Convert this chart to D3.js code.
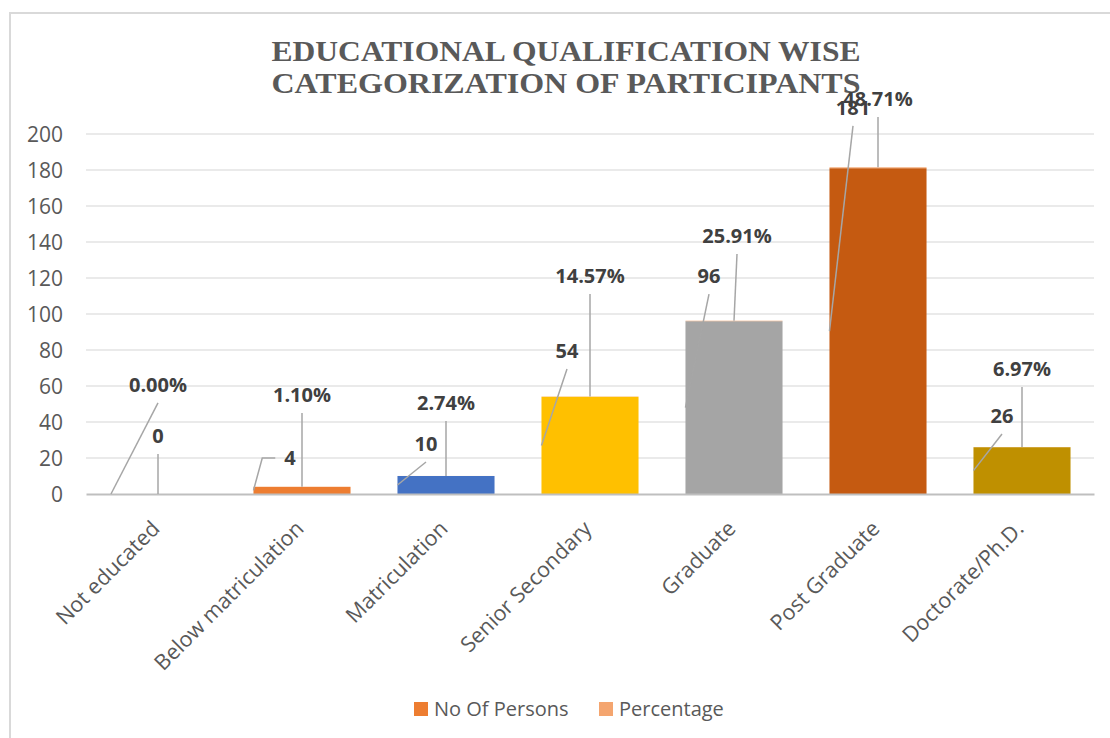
<!DOCTYPE html>
<html>
<head>
<meta charset="utf-8">
<script src="https://cdn.jsdelivr.net/npm/d3@7/dist/d3.min.js"></script>
<style>
  html, body { margin: 0; padding: 0; background: #fff; }
  svg { display: block; }
</style>
</head>
<body>
<svg id="chart" width="1110" height="738"></svg>
<script>
// ---- data ----
const categories = ["Not educated", "Below matriculation", "Matriculation", "Senior Secondary", "Graduate", "Post Graduate", "Doctorate/Ph.D."];
const persons = [0, 4, 10, 54, 96, 181, 26];
const percentages = [0.0000, 0.0110, 0.0274, 0.1457, 0.2591, 0.4871, 0.0697];
const barColors = ["#ed7d31", "#ed7d31", "#4472c4", "#ffc000", "#a5a5a5", "#c55a11", "#bf9000"];
const yTicks = [0, 20, 40, 60, 80, 100, 120, 140, 160, 180, 200];
const titleLines = ["EDUCATIONAL QUALIFICATION WISE", "CATEGORIZATION OF PARTICIPANTS"];
const legendItems = [{ name: "No Of Persons", color: "#ed7d31" }, { name: "Percentage", color: "#f4a56f" }];

// ---- label placement (label centre offset from bar centre in px, baseline height in axis units) ----
const personLabelLayout = [
  { dx: 0, at: 28.3 }, { dx: -12, at: 16.1 }, { dx: -20, at: 23.9 }, { dx: -23, at: 75.6 },
  { dx: -25, at: 117.2 }, { dx: -25, at: 210.6 }, { dx: -20, at: 39.4 }
];
const percentLabelLayout = [
  { dx: 0, at: 56.7 }, { dx: 0, at: 51.1 }, { dx: 0, at: 46.7 }, { dx: 0, at: 117.2 },
  { dx: 3, at: 139.4 }, { dx: 0, at: 215.6 }, { dx: 0, at: 65.6 }
];

// ---- layout ----
const svg = d3.select("#chart");
const plot = { left: 86, right: 1094, top: 134, bottom: 494 };

const x = d3.scaleBand().domain(categories).range([plot.left, plot.right])
  .paddingInner(0.326).paddingOuter(0.163);
const y = d3.scaleLinear().domain([0, 200]).range([plot.bottom, plot.top]);

// chart frame
svg.append("rect").attr("x", 10).attr("y", 13).attr("width", 1200).attr("height", 800)
  .attr("fill", "none").attr("stroke", "#d9d9d9").attr("stroke-width", 2);

// title
const title = svg.append("text").attr("text-anchor", "middle")
  .attr("font-family", "'Liberation Serif', 'Times New Roman', serif")
  .attr("font-weight", "bold").attr("font-size", 30).attr("fill", "#595959");
titleLines.forEach((t, i) => {
  title.append("tspan").attr("x", 566).attr("y", 61 + i * 32)
    .attr("textLength", 589).attr("lengthAdjust", "spacingAndGlyphs").text(t);
});

// gridlines
svg.append("g").selectAll("line").data(yTicks.filter(d => d > 0)).join("line")
  .attr("x1", plot.left).attr("x2", plot.right)
  .attr("y1", d => y(d)).attr("y2", d => y(d))
  .attr("stroke", "#e3e3e3").attr("stroke-width", 1.3);

// y axis labels
const yAxis = svg.append("g").attr("transform", `translate(${plot.left - 23},0)`)
  .call(d3.axisLeft(y).tickValues(yTicks).tickSize(0).tickPadding(0));
yAxis.select(".domain").remove();
yAxis.selectAll("text").attr("font-family", "'Open Sans', sans-serif").attr("font-size", 21)
  .attr("fill", "#595959").attr("dy", "0.36em");

// bars: persons
svg.append("g").selectAll("rect").data(categories).join("rect")
  .attr("x", d => x(d)).attr("width", x.bandwidth())
  .attr("y", (d, i) => y(persons[i])).attr("height", (d, i) => y(0) - y(persons[i]))
  .attr("fill", (d, i) => barColors[i]);

// bars: percentage stacked on top
svg.append("g").selectAll("rect").data(categories).join("rect")
  .attr("x", d => x(d)).attr("width", x.bandwidth())
  .attr("y", (d, i) => y(persons[i] + percentages[i]))
  .attr("height", (d, i) => y(persons[i]) - y(persons[i] + percentages[i]))
  .attr("fill", legendItems[1].color);

// x axis line and labels
const xAxis = svg.append("g").attr("transform", `translate(0,${plot.bottom})`)
  .call(d3.axisBottom(x).tickSize(0).tickPadding(0));
xAxis.select(".domain").attr("stroke", "#bfbfbf").attr("stroke-width", 2);
xAxis.selectAll(".tick text")
  .attr("font-family", "'Open Sans', sans-serif").attr("font-size", 21.5).attr("fill", "#595959")
  .attr("text-anchor", "end").attr("y", 0).attr("dy", 0)
  .attr("transform", "translate(3,36) rotate(-45)");

// data labels with leader lines
const labelFont = { family: "'Open Sans', sans-serif", size: 20 };
const leaders = svg.append("g").attr("fill", "none").attr("stroke", "#a6a6a6").attr("stroke-width", 1.5);
const labels = svg.append("g").attr("font-family", labelFont.family).attr("font-size", labelFont.size)
  .attr("font-weight", "bold").attr("fill", "#404040").attr("text-anchor", "middle");

function centre(i) { return x(categories[i]) + x.bandwidth() / 2; }

function drawLabel(text, lx, baseline, target) {
  const node = labels.append("text").attr("x", lx).attr("y", baseline).text(text);
  const bb = node.node().getBBox();
  const midY = baseline - 7;
  const dxT = Math.abs(target[0] - lx), dyT = Math.abs(target[1] - midY);
  let path;
  if (target[0] < bb.x && dyT < dxT) {
    // attach from the left side of the label with a short stub
    const sx = bb.x - 9, sy = midY;
    path = [[sx, sy], [sx - 13, sy], target];
  } else {
    path = [[lx, baseline + 11], target];
  }
  leaders.append("path").attr("d", d3.line()(path));
}

categories.forEach((c, i) => {
  const cx = centre(i);
  const left = x(c);
  const top = y(persons[i] + percentages[i]);
  // zero-height bars: the two leaders fan out so they stay apart
  const personTarget = persons[i] === 0 ? [cx, y(0)] : [left, y(persons[i] / 2)];
  const percentTarget = persons[i] === 0 ? [left + 1.5, y(0)] : [cx, top];
  const pl = personLabelLayout[i], ql = percentLabelLayout[i];
  drawLabel(d3.format(".2%")(percentages[i]), cx + ql.dx, y(ql.at), percentTarget);
  drawLabel(String(persons[i]), cx + pl.dx, y(pl.at), personTarget);
});

// legend
const legend = svg.append("g");
const legendX = [414, 599];
legendItems.forEach((item, i) => {
  legend.append("rect").attr("x", legendX[i]).attr("y", 702).attr("width", 14).attr("height", 14)
    .attr("fill", item.color);
  legend.append("text").attr("x", legendX[i] + 20).attr("y", 716)
    .attr("font-family", "'Open Sans', sans-serif").attr("font-size", 20).attr("fill", "#595959")
    .text(item.name);
});
</script>
</body>
</html>
